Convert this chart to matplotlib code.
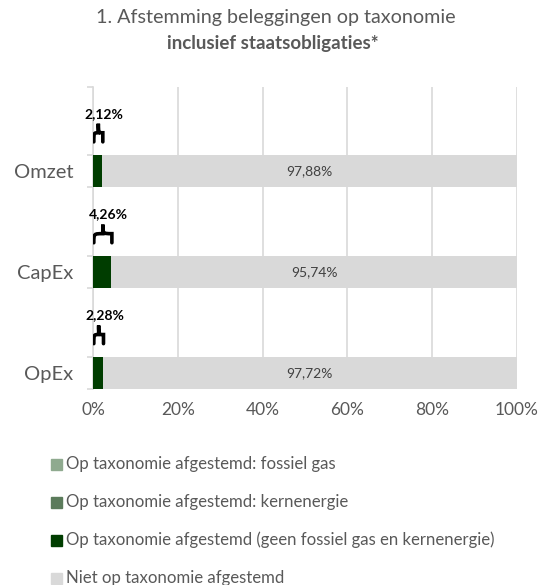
import matplotlib.pyplot as plt
from matplotlib.path import Path
from matplotlib.patches import PathPatch, Rectangle

plt.rcParams['font.family'] = ['Lato', 'DejaVu Sans']

# data
categories = ["Omzet", "CapEx", "OpEx"]
fossiel_gas = [0.0, 0.0, 0.0]
kernenergie = [0.0, 0.0, 0.0]
geen_gas_kern = [2.12, 4.26, 2.28]
niet_afgestemd = [97.88, 95.74, 97.72]

series_labels = [
    "Op taxonomie afgestemd: fossiel gas",
    "Op taxonomie afgestemd: kernenergie",
    "Op taxonomie afgestemd (geen fossiel gas en kernenergie)",
    "Niet op taxonomie afgestemd",
]
colors = ["#8faa8f", "#5b7b5b", "#003d00", "#d9d9d9"]
text_gray = "#595959"
grid_gray = "#d9d9d9"


def fmt(v):
    return f"{v:.2f}".replace(".", ",") + "%"


def brace(ax, x0, x1, yb, h):
    # horizontal curly brace pointing up (y axis inverted)
    xm = (x0 + x1) / 2
    ym = yb - h / 2
    yt = yb - h
    verts = [
        (x0, yb), (x0, ym), (x0, ym), (xm, ym),
        (xm, ym), (xm, ym), (xm, yt),
        (xm, ym), (xm, ym), (x1, ym),
        (x1, ym), (x1, ym), (x1, yb),
    ]
    codes = [Path.MOVETO] + [Path.CURVE4] * 12
    ax.add_patch(PathPatch(Path(verts, codes), fill=False, lw=2.6,
                           edgecolor="black", capstyle="round", zorder=4))


fig = plt.figure(figsize=(5.39, 5.85), dpi=100)
ax = fig.add_axes([0.1725, 0.335, 0.7867, 0.516])

y = list(range(len(categories)))
bar_h = 0.32
left = [0.0] * 3
for vals, col in zip([fossiel_gas, kernenergie, geen_gas_kern, niet_afgestemd], colors):
    ax.barh(y, vals, left=left, height=bar_h, color=col, zorder=3)
    left = [l + v for l, v in zip(left, vals)]

for i, (g, n) in enumerate(zip(geen_gas_kern, niet_afgestemd)):
    ax.text(g + n / 2, i, fmt(n), ha="center", va="center",
            fontsize=10, color="#404040", zorder=5)
    brace(ax, 0.2, g + 0.2, i - 0.29, 0.18)
    ax.text(g / 2 + 1.6, i - 0.57, fmt(g), ha="center", va="center",
            fontsize=10, fontweight="bold", color="black", zorder=5)

ax.set_xlim(0, 100)
ax.set_ylim(2.158, -0.832)
ax.set_xticks([0, 20, 40, 60, 80, 100])
ax.set_xticklabels([f"{t}%" for t in [0, 20, 40, 60, 80, 100]],
                   fontsize=12.5, color=text_gray)
ax.set_yticks(y)
ax.set_yticklabels(categories, fontsize=14.5, color=text_gray)
edges = [-0.832] + [e for i in y for e in (i - bar_h / 2, i + bar_h / 2)]
ax.set_yticks(edges, minor=True)
ax.tick_params(axis="y", which="major", length=0, pad=14)
ax.tick_params(axis="y", which="minor", length=4, color=grid_gray, width=1.2)
ax.tick_params(axis="x", length=0, pad=9)
ax.grid(axis="x", color=grid_gray, lw=1.2, zorder=0)
for s in ["top", "right", "bottom"]:
    ax.spines[s].set_visible(False)
ax.spines["left"].set_color(grid_gray)
ax.spines["left"].set_linewidth(1.2)

fig.text(0.512, 1 - 17 / 585, "1. Afstemming beleggingen op taxonomie",
         ha="center", va="center", fontsize=14.2, color=text_gray)
fig.text(0.507, 1 - 43 / 585, "inclusief staatsobligaties*", ha="center", va="center",
         fontsize=13.5, fontweight="bold", color=text_gray)

# legend, drawn row by row
for k, (lab, col) in enumerate(zip(series_labels, colors)):
    yc = 1 - (464 + 38 * k) / 585
    fig.patches.append(Rectangle((51 / 539, yc - 5.5 / 585), 11 / 539, 11 / 585,
                                 transform=fig.transFigure, color=col))
    fig.text(66 / 539, yc, lab, ha="left", va="center", fontsize=12.1,
             color=text_gray)

fig.savefig("out.png", dpi=100)
